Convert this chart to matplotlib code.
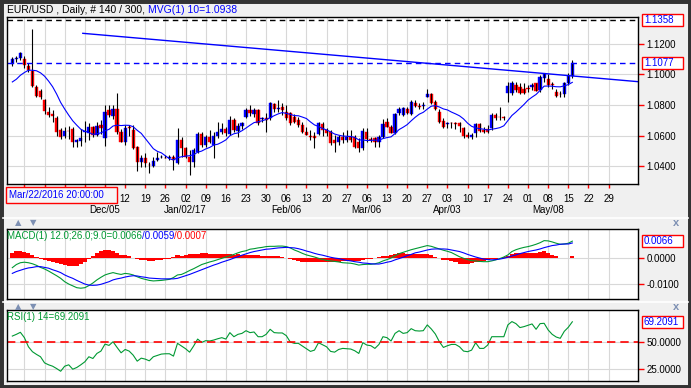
import matplotlib
matplotlib.use("Agg")
import matplotlib.pyplot as plt
import matplotlib.transforms as mtransforms
from matplotlib.patches import Rectangle
import numpy as np
import pandas as pd

plt.rcParams['font.family'] = ['Liberation Sans', 'DejaVu Sans']

W, H = 691, 388
BG = '#f0f0f0'

# EUR/USD daily bars, 2016-11-02 .. 2017-05-16
opens = [
    1.1067, 1.1102, 1.1110, 1.1102, 1.1058, 1.1025, 1.0920, 1.0893, 1.0832, 1.0756,
    1.0740, 1.0712, 1.0636, 1.0600, 1.0632, 1.0642, 1.0555, 1.0566, 1.0625, 1.0618,
    1.0657, 1.0603, 1.0668, 1.0585, 1.0767, 1.0727, 1.0771, 1.0620, 1.0560, 1.0655,
    1.0636, 1.0522, 1.0428, 1.0450, 1.0407, 1.0400, 1.0440, 1.0458, 1.0455, 1.0450,
    1.0461, 1.0422, 1.0570, 1.0516, 1.0461, 1.0428, 1.0494, 1.0609, 1.0537, 1.0588,
    1.0537, 1.0596, 1.0620, 1.0645, 1.0609, 1.0701, 1.0630, 1.0660, 1.0723, 1.0767,
    1.0740, 1.0767, 1.0710, 1.0712, 1.0712, 1.0806, 1.0777, 1.0788, 1.0756, 1.0745,
    1.0723, 1.0701, 1.0668, 1.0625, 1.0600, 1.0600, 1.0609, 1.0675, 1.0636, 1.0620,
    1.0570, 1.0559, 1.0592, 1.0570, 1.0592, 1.0588, 1.0559, 1.0516, 1.0625, 1.0576,
    1.0581, 1.0559, 1.0588, 1.0690, 1.0657, 1.0618, 1.0745, 1.0734, 1.0777, 1.0740,
    1.0815, 1.0795, 1.0795, 1.0854, 1.0869, 1.0821, 1.0756, 1.0697, 1.0677, 1.0682,
    1.0679, 1.0679, 1.0647, 1.0603, 1.0590, 1.0618, 1.0673, 1.0636, 1.0640, 1.0647,
    1.0734, 1.0723, 1.0720, 1.0876, 1.0876, 1.0930, 1.0919, 1.0908, 1.0910, 1.0915,
    1.0942, 1.0898, 1.0975, 1.0969, 1.0935, 1.0884, 1.0872, 1.0872, 1.0942, 1.0990,
]
highs = [
    1.1115, 1.1120, 1.1150, 1.1120, 1.1075, 1.1300, 1.0928, 1.0905, 1.0840, 1.0790,
    1.0768, 1.0725, 1.0650, 1.0655, 1.0660, 1.0657, 1.0580, 1.0645, 1.0695, 1.0680,
    1.0665, 1.0690, 1.0700, 1.0799, 1.0799, 1.0800, 1.0880, 1.0640, 1.0668, 1.0670,
    1.0668, 1.0530, 1.0472, 1.0483, 1.0428, 1.0461, 1.0494, 1.0472, 1.0472, 1.0470,
    1.0472, 1.0651, 1.0592, 1.0527, 1.0505, 1.0516, 1.0625, 1.0625, 1.0603, 1.0636,
    1.0625, 1.0690, 1.0679, 1.0657, 1.0728, 1.0712, 1.0683, 1.0690, 1.0782, 1.0799,
    1.0780, 1.0777, 1.0723, 1.0745, 1.0821, 1.0815, 1.0832, 1.0810, 1.0799, 1.0756,
    1.0740, 1.0723, 1.0690, 1.0657, 1.0636, 1.0625, 1.0690, 1.0690, 1.0647, 1.0636,
    1.0603, 1.0603, 1.0625, 1.0636, 1.0636, 1.0603, 1.0581, 1.0647, 1.0647, 1.0592,
    1.0592, 1.0603, 1.0706, 1.0712, 1.0668, 1.0750, 1.0788, 1.0790, 1.0788, 1.0832,
    1.0832, 1.0810, 1.0821, 1.0908, 1.0880, 1.0832, 1.0777, 1.0712, 1.0690, 1.0690,
    1.0690, 1.0690, 1.0657, 1.0625, 1.0614, 1.0679, 1.0679, 1.0657, 1.0668, 1.0745,
    1.0745, 1.0788, 1.0730, 1.0952, 1.0957, 1.0952, 1.0941, 1.0947, 1.0930, 1.0941,
    1.0947, 1.0996, 1.1007, 1.1004, 1.0952, 1.0908, 1.0890, 1.0952, 1.1007, 1.1095,
]
lows = [
    1.1055, 1.1085, 1.1098, 1.1045, 1.1015, 1.0915, 1.0850, 1.0840, 1.0740, 1.0720,
    1.0690, 1.0600, 1.0575, 1.0585, 1.0575, 1.0525, 1.0525, 1.0530, 1.0560, 1.0570,
    1.0590, 1.0595, 1.0612, 1.0530, 1.0720, 1.0710, 1.0610, 1.0555, 1.0540, 1.0600,
    1.0510, 1.0370, 1.0395, 1.0396, 1.0352, 1.0396, 1.0430, 1.0450, 1.0450, 1.0440,
    1.0377, 1.0412, 1.0461, 1.0450, 1.0341, 1.0396, 1.0483, 1.0522, 1.0527, 1.0548,
    1.0455, 1.0585, 1.0610, 1.0600, 1.0603, 1.0625, 1.0590, 1.0640, 1.0712, 1.0730,
    1.0720, 1.0670, 1.0690, 1.0625, 1.0701, 1.0756, 1.0756, 1.0734, 1.0701, 1.0668,
    1.0679, 1.0657, 1.0614, 1.0603, 1.0570, 1.0520, 1.0603, 1.0595, 1.0600, 1.0537,
    1.0494, 1.0537, 1.0548, 1.0555, 1.0559, 1.0516, 1.0494, 1.0505, 1.0559, 1.0555,
    1.0527, 1.0527, 1.0581, 1.0657, 1.0614, 1.0609, 1.0734, 1.0730, 1.0740, 1.0734,
    1.0788, 1.0777, 1.0777, 1.0850, 1.0806, 1.0767, 1.0679, 1.0647, 1.0647, 1.0647,
    1.0640, 1.0625, 1.0581, 1.0581, 1.0576, 1.0592, 1.0620, 1.0614, 1.0614, 1.0636,
    1.0701, 1.0701, 1.0701, 1.0821, 1.0865, 1.0887, 1.0870, 1.0870, 1.0887, 1.0897,
    1.0890, 1.0887, 1.0952, 1.0919, 1.0908, 1.0854, 1.0854, 1.0854, 1.0930, 1.0980,
]
closes = [
    1.1100, 1.1106, 1.1143, 1.1062, 1.1030, 1.0925, 1.0858, 1.0850, 1.0760, 1.0735,
    1.0730, 1.0625, 1.0592, 1.0630, 1.0628, 1.0555, 1.0570, 1.0586, 1.0628, 1.0657,
    1.0605, 1.0665, 1.0650, 1.0756, 1.0734, 1.0771, 1.0625, 1.0560, 1.0650, 1.0650,
    1.0516, 1.0428, 1.0450, 1.0417, 1.0405, 1.0435, 1.0450, 1.0461, 1.0452, 1.0461,
    1.0440, 1.0570, 1.0516, 1.0461, 1.0428, 1.0505, 1.0609, 1.0537, 1.0592, 1.0560,
    1.0596, 1.0625, 1.0645, 1.0614, 1.0701, 1.0636, 1.0665, 1.0680, 1.0767, 1.0745,
    1.0767, 1.0679, 1.0712, 1.0700, 1.0810, 1.0777, 1.0780, 1.0767, 1.0712, 1.0679,
    1.0690, 1.0668, 1.0625, 1.0605, 1.0588, 1.0581, 1.0679, 1.0636, 1.0614, 1.0553,
    1.0548, 1.0592, 1.0570, 1.0592, 1.0570, 1.0522, 1.0516, 1.0631, 1.0575, 1.0570,
    1.0559, 1.0588, 1.0675, 1.0657, 1.0618, 1.0740, 1.0777, 1.0782, 1.0745, 1.0821,
    1.0793, 1.0790, 1.0797, 1.0869, 1.0810, 1.0771, 1.0690, 1.0657, 1.0679, 1.0680,
    1.0677, 1.0660, 1.0596, 1.0590, 1.0603, 1.0673, 1.0630, 1.0625, 1.0625, 1.0734,
    1.0718, 1.0721, 1.0718, 1.0924, 1.0945, 1.0897, 1.0876, 1.0877, 1.0908, 1.0930,
    1.0895, 1.0985, 1.1000, 1.0931, 1.0933, 1.0862, 1.0870, 1.0942, 1.0990, 1.1077,
]
# closes before the first visible bar (for the 10-bar average)
prior_closes = [1.0928, 1.0884, 1.0880, 1.0881, 1.0923, 1.0895, 1.0985, 1.0980, 1.1055]

# MACD line and signal line, in pips (0.0001)
macd_pips = [
    -36, -24, -17, -15, -17, -21, -27, -35, -41, -49,
    -58, -67, -77, -90, -99, -106, -113, -115, -113, -105,
    -95, -83, -73, -64, -59, -55, -59, -62, -58, -60,
    -64, -71, -77, -81, -85, -87, -86, -85, -83, -81,
    -74, -64, -62, -55, -47, -40, -32, -24, -19, -14,
    -10, -5, 0, 5, 10, 15, 21, 26, 29, 35,
    37, 40, 42, 45, 46, 46, 47, 47, 45, 40,
    32, 26, 19, 13, 9, 5, 0, -4, -8, -10,
    -12, -14, -17, -18, -19, -22, -26, -24, -23, -23,
    -21, -17, -10, -5, 1, 10, 18, 23, 28, 33,
    37, 41, 45, 49, 46, 41, 36, 31, 27, 22,
    14, 6, 0, -5, -9, -10, -12, -13, -13, -10,
    -6, -1, 5, 13, 26, 33, 38, 42, 45, 49,
    54, 60, 68, 67, 63, 58, 54, 55, 58, 66,
]
signal_pips = [
    -58, -51, -46, -41, -37, -35, -32, -32, -35, -38,
    -44, -49, -55, -64, -71, -77, -85, -92, -99, -103,
    -104, -103, -100, -95, -90, -83, -79, -76, -72, -69,
    -67, -68, -71, -73, -76, -77, -78, -79, -79, -79,
    -79, -77, -72, -67, -62, -56, -50, -44, -38, -32,
    -26, -21, -15, -10, -5, 1, 6, 12, 17, 22,
    26, 29, 32, 35, 36, 38, 40, 41, 42, 41,
    40, 37, 33, 28, 24, 19, 15, 12, 8, 4,
    1, -1, -5, -8, -10, -13, -15, -18, -19, -21,
    -22, -22, -19, -15, -12, -6, -1, 4, 10, 15,
    21, 24, 28, 32, 35, 36, 36, 36, 35, 32,
    29, 26, 21, 15, 10, 5, 1, -3, -5, -6,
    -5, -3, 0, 4, 9, 13, 18, 22, 26, 29,
    32, 36, 41, 45, 49, 51, 54, 55, 55, 59,
]
rsi = [
    55.9, 57.5, 59.4, 54.4, 45.9, 41.3, 38.8, 36.6, 30.9, 29.1,
    27.8, 25.6, 23.1, 27.8, 29.1, 25.0, 26.6, 29.1, 31.9, 36.6,
    35.0, 39.7, 41.9, 48.4, 47.2, 50.6, 45.3, 40.3, 43.4, 41.9,
    38.1, 32.5, 35.3, 34.4, 32.8, 36.6, 37.8, 39.1, 39.4, 39.4,
    37.2, 49.1, 46.6, 44.1, 40.9, 46.6, 53.1, 50.0, 51.6, 51.3,
    52.2, 53.4, 54.4, 53.1, 59.1, 55.3, 57.5, 58.4, 60.9, 59.1,
    59.7, 55.3, 55.3, 57.5, 62.2, 59.1, 58.8, 58.8, 56.3, 50.3,
    49.1, 49.1, 46.6, 44.1, 41.6, 42.8, 49.7, 47.8, 45.9, 41.6,
    40.9, 43.4, 44.4, 44.1, 43.8, 42.2, 39.7, 49.7, 47.5, 46.9,
    44.4, 48.1, 55.3, 54.4, 51.3, 58.4, 60.9, 58.4, 59.1, 62.8,
    60.9, 60.6, 60.9, 66.3, 62.5, 57.8, 50.6, 45.3, 46.9, 48.1,
    48.1, 45.9, 41.9, 41.3, 42.8, 49.7, 44.4, 44.4, 47.5, 55.3,
    55.3, 55.3, 55.3, 66.3, 69.4, 67.5, 63.8, 64.7, 65.9, 67.2,
    62.2, 67.5, 67.8, 61.6, 57.5, 55.0, 53.8, 60.3, 64.1, 69.2091,
]

first_day = '2016-11-02'
first_day_label = '2016-12-12'   # earlier day labels sit under the cursor box
last_tick = '2017-05-29'
high_level = 1.1358
trend_x = [17.5, 155.3]
trend_p = [1.1270, 1.0953]
month_labels = ['Dec/05', 'Jan/02/17', 'Feb/06', 'Mar/06', 'Apr/03', 'May/08']
month_dates = ['2016-12-05', '2017-01-02', '2017-02-06', '2017-03-06', '2017-04-03', '2017-05-08']
cursor_label = 'Mar/22/2016 20:00:00'

n = len(closes)
idx = np.arange(n)
o, h, l, c = (np.array(v) for v in (opens, highs, lows, closes))
days = pd.bdate_range(first_day, periods=n + 20)
mondays = [i for i, d in enumerate(days) if d.weekday() == 0 and d <= pd.Timestamp(last_tick)]
day_labels = [days[i].strftime('%d') if days[i] >= pd.Timestamp(first_day_label) else ''
              for i in mondays]
ma = pd.Series(prior_closes + closes).rolling(10).mean().to_numpy()[len(prior_closes):]
macd = np.array(macd_pips) / 10000
signal = np.array(signal_pips) / 10000
hist = macd - signal

fig = plt.figure(figsize=(W / 100, H / 100), dpi=100, facecolor=BG)


def rect(x0, y0, x1, y1):
    return [x0 / W, 1 - y1 / H, (x1 - x0) / W, (y1 - y0) / H]


ax = fig.add_axes(rect(7, 17, 638, 184))
am = fig.add_axes(rect(7, 229, 638, 299), sharex=ax)
ar = fig.add_axes(rect(7, 310, 638, 381), sharex=ax)

for a in (ax, am, ar):
    a.set_facecolor('white')
    for s in a.spines.values():
        s.set_color('black')
        s.set_linewidth(1)
    a.set_axisbelow(True)
    a.grid(True, color='#d8d8d8', lw=0.8)
    a.yaxis.tick_right()
    a.tick_params(axis='y', colors='red', labelcolor='black', labelsize=7, length=4, width=1, pad=2)
    a.set_xticks(mondays)

ax.set_xlim(-1.32, 155.3)

# candles
ax.vlines(idx, l, h, color='black', lw=0.8)
up = c > o + 0.00004
dn = c < o - 0.00004
dj = ~(up | dn)
ax.bar(idx[up], (c - o)[up], bottom=o[up], width=0.8, color='#0000ff', ec='#0000ff', lw=0.3)
ax.bar(idx[dn], (o - c)[dn], bottom=c[dn], width=0.8, color='#ff0000', ec='#ff0000', lw=0.3)
ax.hlines(c[dj], idx[dj] - 0.45, idx[dj] + 0.45, color='black', lw=0.8)
ax.plot(idx, ma, color='#0000ff', lw=0.8)
ax.plot(trend_x, trend_p, color='#0000ff', lw=1.0)
ax.axhline(high_level, color='black', ls=(0, (4, 3)), lw=1)
ax.axhline(closes[-1], color='#0000ff', ls=(0, (4, 3)), lw=1)
ax.set_ylim(1.0282, 1.1377)
ax.set_yticks([1.04, 1.06, 1.08, 1.10, 1.12])
ax.set_yticklabels(['1.0400', '1.0600', '1.0800', '1.1000', '1.1200'])
ax.set_xticklabels(day_labels)
ax.tick_params(axis='x', colors='red', labelcolor='black', labelsize=7, length=3, width=1, pad=4)

trans = mtransforms.blended_transform_factory(ax.transData, fig.transFigure)
for lab, d in zip(month_labels, month_dates):
    ax.text(days.get_loc(pd.Timestamp(d)), 1 - 210 / H, lab, transform=trans,
            ha='center', va='center', fontsize=7, clip_on=False)

# MACD
am.bar(idx, hist, width=1.0, color='#ff0000', lw=0)
am.plot(idx, macd, color='#009933', lw=0.8)
am.plot(idx, signal, color='#0000ff', lw=0.8)
am.set_ylim(-0.01565, 0.01127)
am.set_yticks([0.0, -0.01])
am.set_yticklabels(['0.0000', '-0.0100'])
am.tick_params(axis='x', length=0, labelbottom=False)

# RSI
ar.plot(idx, rsi, color='#009933', lw=0.8)
ar.axhline(50, color='#ff0000', ls=(0, (5, 3)), lw=1.2)
ar.set_ylim(14.0, 80.2)
ar.set_yticks([50, 25])
ar.set_yticklabels(['50.0000', '25.0000'])
ar.tick_params(axis='x', length=0, labelbottom=False)

# frame and separators
fig.add_artist(Rectangle((0, 0), 1, 1, transform=fig.transFigure, fill=False,
                         ec='#333333', lw=5, zorder=0))
for yy in (218, 302):
    fig.add_artist(plt.Line2D([3 / W, 1 - 3 / W], [1 - yy / H] * 2, color='white', lw=1.2))
    fig.text(18 / W, 1 - (yy + 5) / H, '\u25b2', color='#7d90b3', fontsize=6, ha='center',
             va='center', family='DejaVu Sans')
    fig.text(33 / W, 1 - (yy + 5) / H, '\u25bc', color='#7d90b3', fontsize=6, ha='center',
             va='center', family='DejaVu Sans')
    fig.text(676 / W, 1 - (yy + 5) / H, 'x', color='#7d90b3', fontsize=8, ha='center',
             va='center', weight='bold')

fig.canvas.draw()
renderer = fig.canvas.get_renderer()


def segments(x, y, parts, size=7.5):
    for s, col in parts:
        t = fig.text(x / W, 1 - y / H, s, color=col, fontsize=size, ha='left', va='center')
        x = t.get_window_extent(renderer).x1


segments(7, 10, [('EUR/USD , Daily, # 140 / 300, ', 'black'), ('MVG(1) 10=%.4f' % 1.0938, '#0000ff')])
segments(7, 236, [('MACD(1) 12.0;26.0;9.0=%.4f' % macd[-1], '#009933'),
                  ('/%.4f' % signal[-1], '#0000ff'), ('/%.4f' % hist[-1], '#ff0000')], 7)
segments(7, 317, [('RSI(1) 14=%.4f' % rsi[-1], '#009933')], 7)


def value_box(a, value, text):
    yp = H - a.transData.transform((0, value))[1]
    fig.add_artist(Rectangle((642 / W, 1 - (yp + 6) / H), 41 / W, 12 / H,
                             transform=fig.transFigure, fc='white', ec='red', lw=1, zorder=4))
    fig.text(644 / W, 1 - yp / H, text, color='#0000ff', fontsize=7, ha='left',
             va='center', zorder=5)


value_box(ax, high_level, '%.4f' % high_level)
value_box(ax, closes[-1], '%.4f' % closes[-1])
value_box(am, macd[-1], '%.4f' % macd[-1])
value_box(ar, rsi[-1], '%.4f' % rsi[-1])

# cursor date box over the left end of the date axis
fig.add_artist(Rectangle((6 / W, 1 - 203 / H), 111 / W, 16 / H, transform=fig.transFigure,
                         fc='#f6f6f6', ec='red', lw=1, zorder=4))
fig.text(9 / W, 1 - 195 / H, cursor_label, color='#0000ff', fontsize=7, ha='left',
         va='center', zorder=5)

fig.savefig('out.png', dpi=100, facecolor=BG)
